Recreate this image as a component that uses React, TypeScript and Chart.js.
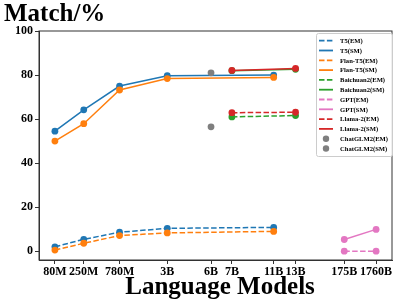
import React, { useEffect, useRef } from "react";
import { Chart, registerables } from "chart.js";

Chart.register(...registerables);

// ---- data ----
const modelLabels = ["80M", "250M", "780M", "3B", "6B", "7B", "11B", "13B", "175B", "1760B"];
// custom (non-uniform) axis positions of each model size, in axis units
const modelPositions = [16, 45, 81, 129, 173, 194, 236, 258, 307, 339];

const t5Sizes = ["80M", "250M", "780M", "3B", "11B"];
const t5EM = [2.0, 5.4, 8.6, 10.4, 10.8];
const t5SM = [54.5, 64.2, 75.0, 79.7, 80.0];
const flanEM = [0.5, 3.6, 7.1, 8.3, 9.0];
const flanSM = [50.0, 57.9, 73.2, 78.4, 78.9];

const baichuanSizes = ["7B", "13B"];
const baichuanEM = [61.0, 61.6];
const baichuanSM = [82.0, 82.6];

const gptSizes = ["175B", "1760B"];
const gptEM = [0, 0];
const gptSM = [5.3, 9.9];

const llamaSizes = ["7B", "13B"];
const llamaEM = [62.9, 63.1];
const llamaSM = [82.1, 83.0];

const chatglmSizes = ["6B"];
const chatglmEM = [56.5];
const chatglmSM = [81.0];

const yTicks = [0, 20, 40, 60, 80, 100];

const FONT = "'Liberation Serif', 'Times New Roman', serif";

const posOf = (label: string) => modelPositions[modelLabels.indexOf(label)];
const pts = (sizes: string[], vals: number[]) =>
  sizes.map((s, i) => ({ x: posOf(s), y: vals[i] }));

type Series = { label: string; sizes: string[]; vals: number[]; color: string; dashed: boolean; line: boolean };

const seriesList: Series[] = [
  { label: "T5(EM)", sizes: t5Sizes, vals: t5EM, color: "#1f77b4", dashed: true, line: true },
  { label: "T5(SM)", sizes: t5Sizes, vals: t5SM, color: "#1f77b4", dashed: false, line: true },
  { label: "Flan-T5(EM)", sizes: t5Sizes, vals: flanEM, color: "#ff7f0e", dashed: true, line: true },
  { label: "Flan-T5(SM)", sizes: t5Sizes, vals: flanSM, color: "#ff7f0e", dashed: false, line: true },
  { label: "Baichuan2(EM)", sizes: baichuanSizes, vals: baichuanEM, color: "#2ca02c", dashed: true, line: true },
  { label: "Baichuan2(SM)", sizes: baichuanSizes, vals: baichuanSM, color: "#2ca02c", dashed: false, line: true },
  { label: "GPT(EM)", sizes: gptSizes, vals: gptEM, color: "#e377c2", dashed: true, line: true },
  { label: "GPT(SM)", sizes: gptSizes, vals: gptSM, color: "#e377c2", dashed: false, line: true },
  { label: "Llama-2(EM)", sizes: llamaSizes, vals: llamaEM, color: "#d62728", dashed: true, line: true },
  { label: "Llama-2(SM)", sizes: llamaSizes, vals: llamaSM, color: "#d62728", dashed: false, line: true },
  { label: "ChatGLM2(EM)", sizes: chatglmSizes, vals: chatglmEM, color: "#7f7f7f", dashed: false, line: false },
  { label: "ChatGLM2(SM)", sizes: chatglmSizes, vals: chatglmSM, color: "#7f7f7f", dashed: false, line: false },
];

const DASH = [5.5, 2.4];

const decorPlugin = {
  id: "decor",
  afterDraw(chart: any) {
    const { ctx, chartArea } = chart;
    const { left, right, top, bottom } = chartArea;
    ctx.save();
    // frame (spines)
    ctx.strokeStyle = "#333";
    ctx.lineWidth = 1;
    ctx.strokeRect(left, top, right - left, bottom - top);

    // legend
    const bx = 316.5, by = 33.5, bw = 76, bh = 123;
    ctx.fillStyle = "rgba(255,255,255,0.85)";
    ctx.strokeStyle = "#cccccc";
    ctx.lineWidth = 1;
    ctx.beginPath();
    (ctx as any).roundRect ? ctx.roundRect(bx, by, bw, bh, 2) : ctx.rect(bx, by, bw, bh);
    ctx.fill();
    ctx.stroke();
    ctx.font = `bold 6.6px ${FONT}`;
    ctx.textBaseline = "middle";
    ctx.textAlign = "left";
    chart.data.datasets.forEach((ds: any, i: number) => {
      const y = 40.7 + i * 9.8;
      const s = seriesList[i];
      if (s.line) {
        ctx.strokeStyle = s.color;
        ctx.lineWidth = 1.8;
        ctx.setLineDash(s.dashed ? DASH : []);
        ctx.beginPath();
        ctx.moveTo(319, y);
        ctx.lineTo(333, y);
        ctx.stroke();
        ctx.setLineDash([]);
      } else {
        ctx.fillStyle = s.color;
        ctx.beginPath();
        ctx.arc(326, y, 3.2, 0, Math.PI * 2);
        ctx.fill();
      }
      ctx.fillStyle = "#000";
      ctx.fillText(ds.label, 340, y + 0.5);
    });

    // titles
    ctx.fillStyle = "#000";
    ctx.font = `bold 25px ${FONT}`;
    ctx.textBaseline = "alphabetic";
    ctx.textAlign = "left";
    ctx.fillText("Match/%", 4, 21);
    ctx.textAlign = "center";
    ctx.fillText("Language Models", 220, 294);
    ctx.restore();
  },
};

export default function App() {
  const ref = useRef<HTMLCanvasElement | null>(null);
  useEffect(() => {
    if (!ref.current) return;
    const n = seriesList.length;
    const chart = new Chart(ref.current, {
      type: "line",
      data: {
        datasets: seriesList.map((s, i) => ({
          label: s.label,
          data: pts(s.sizes, s.vals),
          borderColor: s.color,
          backgroundColor: s.color,
          pointBackgroundColor: s.color,
          pointBorderWidth: 0,
          pointRadius: 3.4,
          borderWidth: 1.5,
          borderDash: s.dashed ? DASH : [],
          showLine: s.line,
          fill: false,
          tension: 0,
          order: n - i,
        })),
      },
      options: {
        responsive: false,
        animation: false,
        events: [],
        layout: { padding: { top: 31, right: 2, left: 0, bottom: 0 } },
        plugins: { legend: { display: false }, tooltip: { enabled: false }, title: { display: false } },
        scales: {
          x: {
            type: "linear",
            min: 0,
            max: 355,
            afterBuildTicks: (scale: any) => {
              scale.ticks = modelPositions.map((v) => ({ value: v }));
            },
            afterFit: (scale: any) => {
              scale.height = 41;
            },
            ticks: {
              autoSkip: false,
              maxRotation: 0,
              padding: 1,
              color: "#000",
              font: { family: FONT, size: 12, weight: "bold" },
              callback: (v: any) => {
                const idx = modelPositions.indexOf(Number(v));
                return idx >= 0 ? modelLabels[idx] : "";
              },
            },
            grid: { display: true, drawOnChartArea: false, drawTicks: true, tickLength: 4, color: "#333" },
            border: { display: true, color: "#333" },
          },
          y: {
            type: "linear",
            min: -4,
            max: 100,
            afterBuildTicks: (scale: any) => {
              scale.ticks = yTicks.map((v) => ({ value: v }));
            },
            afterFit: (scale: any) => {
              scale.width = 39;
            },
            ticks: {
              padding: 2,
              color: "#000",
              font: { family: FONT, size: 12, weight: "bold" },
            },
            grid: { display: true, drawOnChartArea: false, drawTicks: true, tickLength: 4, color: "#333" },
            border: { display: true, color: "#333" },
          },
        },
      },
      plugins: [decorPlugin],
    });
    return () => chart.destroy();
  }, []);
  return (
    <div style={{ position: "absolute", left: 0, top: 0, width: 396, height: 301, background: "#fff" }}>
      <canvas ref={ref} width={396} height={301} style={{ width: 396, height: 301, display: "block" }} />
    </div>
  );
}
